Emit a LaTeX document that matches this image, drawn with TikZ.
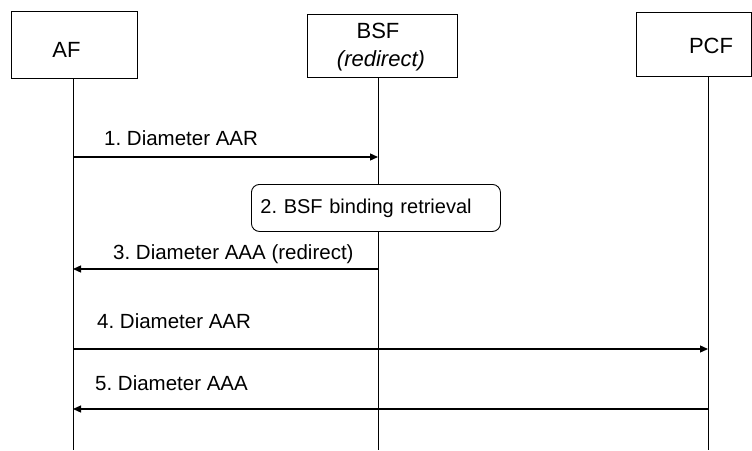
\documentclass[tikz,border=0pt]{standalone}
\usepackage{fontspec}
\setmainfont{Liberation Sans}
\usetikzlibrary{arrows.meta}
\begin{document}
\frenchspacing
\begin{tikzpicture}[x=1pt,y=-1pt,
  entbox/.style={draw, line width=0.9pt, fill=white, inner sep=0pt},
  enttext/.style={font=\fontsize{22}{24}\selectfont, inner sep=0pt, anchor=base},
  life/.style={line width=0.9pt},
  msg/.style={line width=1.3pt, -{Triangle[length=8pt,width=7pt]}},
  lbl/.style={anchor=base west, font=\fontsize{20.5}{24}\selectfont, inner sep=0pt},
  actbox/.style={draw, line width=0.9pt, fill=white, rounded corners=8pt, anchor=north west,
    inner xsep=9pt, inner ysep=0pt, text width=231pt, minimum height=47pt, align=left,
    font=\fontsize{20}{24}\selectfont}
]
\useasboundingbox (0,0) rectangle (752,450);

% entity boxes
\node[entbox, minimum width=126pt, minimum height=67pt] (af) at (74,44.5) {};
\node[entbox, minimum width=150pt, minimum height=63pt] (bsf) at (382.5,45.5) {};
\node[entbox, minimum width=115pt, minimum height=64pt] (pcf) at (694,44.5) {};
\node[enttext] (aft) at (66.5,57) {AF};
\node[enttext] (bsft) at (378,38) {BSF};
\node[enttext] (bsfr) at (381,66) {\textit{(redirect)}};
\node[enttext] (pcft) at (711,53) {PCF};

% lifelines
\coordinate (afB) at (73,450);
\coordinate (bsfB) at (378,450);
\coordinate (pcfB) at (708,450);
\draw[life] (af.south -| afB) -- (afB);
\draw[life] (bsf.south -| bsfB) -- (bsfB);
\draw[life] (pcf.south -| pcfB) -- (pcfB);

% step 1
\coordinate (a1) at (73,157);
\coordinate (b1) at (378,157);
\draw[msg] (a1) -- (b1);
\node[lbl] (l1) at (104,145) {1. Diameter AAR};

% step 2
\node[actbox] (s2) at (251,184) {2. BSF binding retrieval};

% step 3
\coordinate (a3) at (73,269);
\coordinate (b3) at (378,269);
\draw[msg] (b3) -- (a3);
\node[lbl] (l3) at (113,259) {3. Diameter AAA (redirect)};

% step 4
\coordinate (a4) at (73,349);
\coordinate (p4) at (708,349);
\draw[msg] (a4) -- (p4);
\node[lbl] (l4) at (97,328) {4. Diameter AAR};

% step 5
\coordinate (a5) at (73,409);
\coordinate (p5) at (708,409);
\draw[msg] (p5) -- (a5);
\node[lbl] (l5) at (95,390) {5. Diameter AAA};
\end{tikzpicture}
\end{document}
